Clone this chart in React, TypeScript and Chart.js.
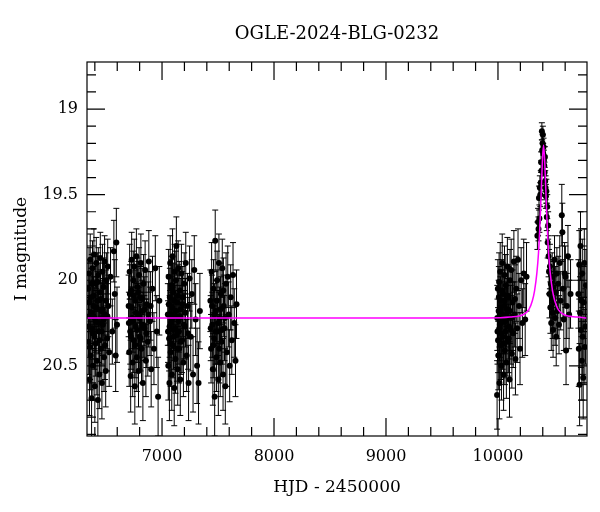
import React, { useEffect, useRef } from 'react';
import { Chart, registerables } from 'chart.js';

Chart.register(...registerables);

const chartTitle = 'OGLE-2024-BLG-0232';
const xTitle = 'HJD - 2450000';
const yTitle = 'I magnitude';
const xTickValues = [7000, 8000, 9000, 10000];
const yTickValues = [19, 19.5, 20, 20.5];
const xRange = [6330, 10795];
const yRange = [18.725, 20.91];

// [HJD-2450000, I mag, error]
const season1 = [
  [6341,20.05,0.17],[6345,20.36,0.19],[6348,19.96,0.15],[6352,20.58,0.21],[6356,20.21,0.18],[6359,19.88,0.15],
  [6363,20.44,0.2],[6367,20.1,0.17],[6371,20.69,0.23],[6375,20.28,0.18],[6379,19.93,0.16],[6383,20.5,0.2],
  [6387,20.15,0.17],[6392,19.85,0.15],[6396,20.33,0.19],[6400,20.62,0.21],[6405,20.02,0.16],[6409,20.24,0.18],
  [6413,19.9,0.15],[6418,20.47,0.2],[6422,20.12,0.17],[6427,20.7,0.22],[6431,19.97,0.16],[6436,20.3,0.18],
  [6440,20.55,0.2],[6445,20.07,0.17],[6449,19.87,0.15],[6454,20.4,0.19],[6458,20.18,0.17],[6463,20.6,0.21],
  [6468,19.95,0.16],[6472,20.26,0.18],[6477,20.04,0.17],[6482,20.45,0.2],[6487,19.89,0.15],[6492,20.2,0.18],
  [6497,20.53,0.21],[6503,20.0,0.16],[6509,20.34,0.19],[6515,19.92,0.16],[6521,20.15,0.18],[6528,20.42,0.2],
  [6540,19.98,0.17],[6556,20.3,0.19],[6570,19.83,0.18],[6578,20.08,0.2],[6586,20.44,0.21],[6592,19.78,0.2],
  [6598,20.26,0.22],
  [6343,20.27,0.18],[6350,20.13,0.17],[6357,20.39,0.19],[6365,20.19,0.18],[6373,20.02,0.17],[6381,20.31,0.19],
  [6390,20.09,0.17],[6398,20.22,0.18],[6407,20.37,0.19],[6416,20.16,0.18],[6425,20.01,0.17],[6434,20.25,0.18],
  [6443,20.35,0.19],[6452,20.11,0.17],[6461,20.3,0.19],[6470,20.17,0.18],[6480,20.23,0.18],[6490,20.38,0.2],
  [6500,20.12,0.18],[6512,20.21,0.19],
];
const season2 = [
  [6702,20.15,0.18],[6707,20.42,0.2],[6711,19.95,0.16],[6716,20.3,0.19],[6720,20.56,0.21],[6725,20.06,0.17],
  [6729,19.88,0.16],[6734,20.22,0.18],[6738,20.48,0.2],[6743,20.0,0.17],[6747,20.35,0.19],[6752,19.92,0.16],
  [6757,20.62,0.22],[6761,20.12,0.18],[6766,20.27,0.19],[6771,19.86,0.16],[6775,20.45,0.2],[6780,20.04,0.17],
  [6785,20.2,0.18],[6790,20.53,0.21],[6795,19.97,0.16],[6800,20.33,0.19],[6806,20.1,0.18],[6811,19.9,0.17],
  [6817,20.4,0.2],[6823,20.18,0.18],[6829,20.6,0.22],[6835,20.02,0.17],[6842,20.28,0.19],[6849,19.94,0.17],
  [6856,20.47,0.21],[6864,20.14,0.19],[6873,20.36,0.2],[6882,19.89,0.18],[6892,20.24,0.2],[6903,20.52,0.22],
  [6915,20.05,0.19],[6928,20.4,0.21],[6940,19.93,0.19],[6953,20.3,0.21],[6965,20.68,0.23],[6976,20.12,0.2],
  [6704,20.25,0.18],[6713,20.08,0.17],[6722,20.33,0.19],[6731,20.16,0.18],[6740,20.24,0.18],[6749,20.09,0.17],
  [6759,20.38,0.19],[6768,20.19,0.18],[6777,20.29,0.19],[6787,20.07,0.18],[6797,20.22,0.18],[6808,20.34,0.19],
  [6820,20.11,0.18],[6832,20.26,0.19],[6846,20.17,0.19],[6860,20.31,0.2],[6878,20.2,0.19],[6898,20.15,0.2],
];
const season3 = [
  [7052,20.2,0.18],[7056,20.5,0.2],[7059,19.98,0.16],[7063,20.34,0.19],[7066,20.6,0.22],[7070,20.1,0.17],
  [7073,19.9,0.16],[7077,20.42,0.2],[7080,20.25,0.18],[7084,20.03,0.17],[7087,20.55,0.21],[7091,20.16,0.18],
  [7094,19.86,0.16],[7098,20.38,0.19],[7101,20.07,0.17],[7105,20.29,0.18],[7109,20.63,0.22],[7112,19.95,0.16],
  [7116,20.21,0.18],[7120,20.46,0.2],[7124,20.0,0.17],[7128,19.8,0.17],[7132,20.32,0.19],[7136,20.13,0.18],
  [7140,20.52,0.21],[7144,19.93,0.16],[7149,20.24,0.18],[7153,20.4,0.2],[7158,20.06,0.17],[7163,20.58,0.21],
  [7168,20.17,0.18],[7173,19.96,0.17],[7179,20.35,0.19],[7185,20.1,0.18],[7191,20.48,0.2],[7198,20.02,0.18],
  [7205,20.27,0.19],[7212,19.9,0.18],[7220,20.44,0.21],[7228,20.15,0.19],[7237,20.6,0.22],[7246,19.99,0.19],
  [7256,20.33,0.2],[7266,20.08,0.2],[7277,20.55,0.22],[7288,19.94,0.2],[7300,20.23,0.21],[7313,20.5,0.22],
  [7326,20.6,0.24],[7338,20.18,0.22],
  [7054,20.3,0.18],[7061,20.14,0.17],[7068,20.27,0.18],[7075,20.2,0.18],[7082,20.37,0.19],[7089,20.05,0.17],
  [7096,20.22,0.18],[7103,20.33,0.19],[7110,20.12,0.18],[7118,20.28,0.18],[7126,20.18,0.18],[7134,20.4,0.19],
  [7142,20.09,0.18],[7151,20.3,0.19],[7160,20.21,0.18],[7170,20.36,0.19],[7182,20.14,0.19],[7195,20.26,0.2],
  [7210,20.19,0.2],[7232,20.31,0.21],
];
const season4 = [
  [7432,20.12,0.18],[7438,20.4,0.2],[7443,19.95,0.17],[7449,20.26,0.19],[7454,20.52,0.21],[7460,20.05,0.17],
  [7465,20.34,0.19],[7470,20.68,0.23],[7475,19.77,0.18],[7481,20.18,0.18],[7486,20.45,0.2],[7492,20.0,0.17],
  [7497,20.3,0.19],[7503,20.58,0.21],[7508,19.9,0.17],[7514,20.22,0.18],[7520,20.48,0.2],[7526,20.08,0.18],
  [7532,20.36,0.2],[7538,19.93,0.17],[7545,20.55,0.21],[7551,20.15,0.18],[7558,20.28,0.19],[7565,20.62,0.22],
  [7572,20.02,0.18],[7579,20.42,0.2],[7587,19.98,0.18],[7595,20.2,0.19],[7604,20.5,0.21],[7613,20.1,0.19],
  [7623,20.35,0.2],[7634,19.97,0.19],[7645,20.25,0.2],[7656,20.47,0.21],[7665,20.14,0.2],
  [7435,20.28,0.19],[7446,20.15,0.18],[7457,20.38,0.19],[7468,20.2,0.18],[7479,20.3,0.19],[7490,20.12,0.18],
  [7500,20.25,0.19],[7511,20.4,0.2],[7523,20.17,0.19],[7535,20.29,0.2],[7548,20.06,0.19],[7562,20.22,0.2],
];
const season5 = [
  [9992,20.67,0.2],[9996,20.3,0.19],[9999,20.05,0.17],[10003,20.44,0.2],[10006,20.18,0.18],[10010,20.01,0.17],
  [10013,20.6,0.21],[10017,20.26,0.19],[10020,19.95,0.17],[10024,20.38,0.2],[10027,20.12,0.18],[10031,20.5,0.2],
  [10035,20.2,0.19],[10038,19.9,0.17],[10042,20.33,0.19],[10046,20.08,0.18],[10050,20.55,0.21],[10054,20.15,0.18],
  [10058,19.97,0.17],[10062,20.41,0.2],[10066,20.24,0.19],[10070,20.03,0.18],[10075,20.48,0.21],[10079,20.17,0.18],
  [10084,19.92,0.17],[10088,20.36,0.2],[10093,20.1,0.18],[10098,20.27,0.19],[10103,20.58,0.22],[10108,20.0,0.18],
  [10113,20.22,0.19],[10118,19.94,0.18],[10124,20.43,0.2],[10130,20.13,0.19],[10136,20.31,0.2],[10142,19.89,0.18],
  [10149,20.2,0.19],[10156,20.46,0.21],[10163,20.05,0.19],[10171,20.28,0.2],[10179,19.88,0.18],[10188,20.15,0.19],
  [10197,20.4,0.21],[10207,20.0,0.19],[10218,20.25,0.2],[10230,19.96,0.2],[10243,20.23,0.21],[10255,19.98,0.2],
  [9994,20.22,0.19],[10001,20.35,0.19],[10008,20.1,0.18],[10015,20.28,0.19],[10022,20.16,0.18],[10029,20.31,0.19],
  [10036,20.06,0.18],[10044,20.24,0.19],[10052,20.37,0.2],[10060,20.12,0.18],[10068,20.3,0.19],[10077,20.2,0.19],
  [10086,20.09,0.18],[10096,20.34,0.2],[10106,20.18,0.19],[10116,20.29,0.2],[10133,20.21,0.2],[10152,20.11,0.2],
];
const season6 = [
  [10352,19.74,0.08],[10358,19.66,0.08],[10362,19.7,0.07],[10366,19.52,0.07],[10370,19.64,0.08],[10374,19.46,0.07],
  [10378,19.5,0.07],[10382,19.43,0.07],[10385,19.31,0.06],[10388,19.36,0.06],[10392,19.13,0.05],[10395,19.24,0.06],
  [10398,19.2,0.05],[10401,19.15,0.05],[10404,19.26,0.06],[10407,19.22,0.05],[10410,19.3,0.06],[10413,19.33,0.06],
  [10416,19.37,0.06],[10419,19.28,0.06],[10422,19.42,0.06],[10425,19.46,0.07],[10428,19.51,0.07],[10432,19.48,0.07],
  [10436,19.63,0.08],[10440,19.57,0.07],[10444,19.78,0.09],[10448,19.68,0.08],
  [10452,19.86,0.12],[10456,19.95,0.13],[10460,20.08,0.14],[10464,19.92,0.13],[10468,20.16,0.15],[10472,20.02,0.14],
  [10476,20.25,0.16],[10480,20.1,0.15],[10484,19.98,0.14],[10488,20.19,0.15],[10492,20.29,0.16],[10496,20.04,0.15],
  [10500,20.13,0.15],[10505,19.88,0.14],[10510,20.22,0.16],[10515,20.07,0.15],[10520,20.33,0.17],[10526,19.96,0.15],
  [10532,20.18,0.16],[10538,20.02,0.16],[10545,20.26,0.17],[10552,19.9,0.16],[10560,20.12,0.17],[10570,19.62,0.18],
  [10575,19.72,0.17],[10580,20.05,0.17],[10588,20.23,0.18],[10595,19.96,0.18],[10602,19.98,0.18],[10608,20.41,0.2],
  [10615,20.15,0.19],[10625,19.86,0.18],[10635,20.2,0.2],[10648,20.08,0.2],
];
const season7 = [
  [10718,20.08,0.2],[10722,20.4,0.22],[10726,19.91,0.2],[10729,20.61,0.24],[10733,20.19,0.21],[10737,19.8,0.2],
  [10741,20.29,0.22],[10745,20.12,0.21],[10749,20.47,0.23],[10753,19.96,0.2],[10757,20.33,0.22],[10761,20.57,0.24],
  [10766,20.13,0.21],[10771,19.9,0.2],[10776,20.39,0.22],[10781,20.27,0.22],[10786,20.03,0.21],
];

// model light curve
const modelHJD = [6330, 9900, 10107, 10227, 10277, 10307, 10327, 10347, 10362, 10377, 10387, 10397, 10407,
  10417, 10427, 10437, 10452, 10467, 10487, 10507, 10537, 10587, 10707, 10795];
const modelMag = [20.22, 20.22, 20.215, 20.2, 20.17, 20.12, 20.06, 19.96, 19.84, 19.64, 19.47, 19.3, 19.21,
  19.3, 19.47, 19.64, 19.84, 19.96, 20.06, 20.12, 20.17, 20.2, 20.215, 20.22];

const seasons = [season1, season2, season3, season4, season5, season6, season7];

export default function App() {
  const ref = useRef<HTMLCanvasElement | null>(null);
  useEffect(() => {
    const canvas = ref.current;
    if (!canvas) return;
    const allPts = seasons.flat();
    const framePlugin = {
      id: 'framePlugin',
      beforeDatasetsDraw(chart: any) {
        const { ctx, chartArea: a, scales } = chart;
        const x = scales.x, y = scales.y;
        ctx.save();
        ctx.beginPath();
        ctx.rect(a.left, a.top, a.right - a.left, a.bottom - a.top);
        ctx.clip();
        ctx.strokeStyle = '#000';
        ctx.lineWidth = 1;
        ctx.beginPath();
        for (const p of allPts) {
          const px = x.getPixelForValue(p[0]);
          const y1 = y.getPixelForValue(p[1] - p[2]);
          const y2 = y.getPixelForValue(p[1] + p[2]);
          ctx.moveTo(px, y1); ctx.lineTo(px, y2);
          ctx.moveTo(px - 3, y1); ctx.lineTo(px + 3, y1);
          ctx.moveTo(px - 3, y2); ctx.lineTo(px + 3, y2);
        }
        ctx.stroke();
        ctx.restore();
      },
      afterDraw(chart: any) {
        const { ctx, chartArea: a, scales } = chart;
        const x = scales.x, y = scales.y;
        ctx.save();
        ctx.fillStyle = '#000';
        ctx.font = '18px "DejaVu Serif"';
        ctx.textAlign = 'center';
        ctx.textBaseline = 'middle';
        ctx.fillText(chartTitle, (a.left + a.right) / 2, 34);
        ctx.strokeStyle = '#000';
        ctx.lineWidth = 1.2;
        ctx.strokeRect(a.left, a.top, a.right - a.left, a.bottom - a.top);
        ctx.beginPath();
        const major = 18, minor = 9;
        for (let v = 6400; v <= xRange[1]; v += 200) {
          const px = x.getPixelForValue(v);
          const len = xTickValues.includes(v) ? major : minor;
          ctx.moveTo(px, a.bottom); ctx.lineTo(px, a.bottom - len);
          ctx.moveTo(px, a.top); ctx.lineTo(px, a.top + len);
        }
        for (let i = 187; i <= 209; i++) {
          const v = i / 10;
          if (v < yRange[0] || v > yRange[1]) continue;
          const py = y.getPixelForValue(v);
          const len = i % 5 === 0 ? major : minor;
          ctx.moveTo(a.left, py); ctx.lineTo(a.left + len, py);
          ctx.moveTo(a.right, py); ctx.lineTo(a.right - len, py);
        }
        ctx.stroke();
        ctx.restore();
      },
    };

    const chart = new Chart(canvas, {
      type: 'line',
      data: {
        datasets: [
          {
            data: modelHJD.map((t, i) => ({ x: t, y: modelMag[i] })),
            borderColor: '#ff00ff',
            borderWidth: 1.5,
            pointRadius: 0,
            cubicInterpolationMode: 'monotone',
            fill: false,
            order: 0,
          } as any,
          {
            data: allPts.map((p) => ({ x: p[0], y: p[1] })),
            showLine: false,
            pointRadius: 3,
            pointBackgroundColor: '#000',
            pointBorderColor: '#000',
            pointBorderWidth: 0,
            order: 1,
          } as any,
        ],
      },
      options: {
        responsive: false,
        animation: false,
        events: [],
        font: { family: 'DejaVu Serif' },
        layout: { padding: { left: 0, right: 13, top: 62, bottom: 0 } },
        plugins: {
          legend: { display: false },
          tooltip: { enabled: false },
          title: { display: false },
        },
        scales: {
          x: {
            type: 'linear',
            min: xRange[0],
            max: xRange[1],
            grid: { display: false, drawTicks: false },
            border: { display: false },
            afterBuildTicks: (s: any) => { s.ticks = xTickValues.map((v) => ({ value: v })); },
            afterFit: (s: any) => { s.height = 76; },
            ticks: {
              padding: 11,
              color: '#000',
              autoSkip: false,
              maxRotation: 0,
              font: { family: 'DejaVu Serif', size: 16 },
              callback: (v: any) => String(v),
            },
            title: {
              display: true,
              text: xTitle,
              color: '#000',
              font: { family: 'DejaVu Serif', size: 17 },
              padding: { top: 0, bottom: 14 },
            },
          },
          y: {
            type: 'linear',
            reverse: true,
            min: yRange[0],
            max: yRange[1],
            grid: { display: false, drawTicks: false },
            border: { display: false },
            afterBuildTicks: (s: any) => { s.ticks = yTickValues.map((v) => ({ value: v })); },
            afterFit: (s: any) => { s.width = 87; },
            ticks: {
              padding: 9,
              color: '#000',
              autoSkip: false,
              font: { family: 'DejaVu Serif', size: 16 },
              callback: (v: any) => String(v),
            },
            title: {
              display: true,
              text: yTitle,
              color: '#000',
              font: { family: 'DejaVu Serif', size: 17 },
              padding: { top: 11, bottom: 0 },
            },
          },
        },
      } as any,
      plugins: [framePlugin],
    });
    return () => chart.destroy();
  }, []);

  return (
    <div style={{ position: 'fixed', left: 0, top: 0, width: 600, height: 512, background: '#fff' }}>
      <canvas ref={ref} width={600} height={512} style={{ width: 600, height: 512, display: 'block' }} />
    </div>
  );
}
